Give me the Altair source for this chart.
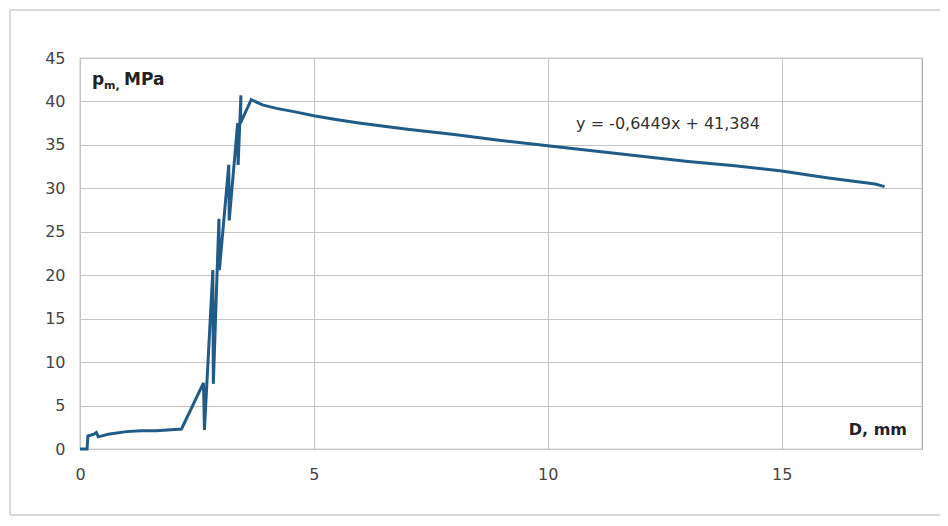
import altair as alt
import pandas as pd

# Data
D_mm = [0.0, 0.15, 0.17, 0.30, 0.35, 0.39, 0.60, 0.99, 1.30, 1.63, 2.17, 2.64, 2.66,
        2.84, 2.85, 2.97, 2.98, 3.18, 3.19, 3.37, 3.38, 3.44, 3.43, 3.66, 3.90,
        4.2, 4.6, 5.0, 5.5, 6.0, 7.0, 8.0, 9.0, 10.0, 11.0, 12.0, 13.0, 14.0, 15.0,
        16.0, 17.0, 17.2]
p_MPa = [0.0, 0.0, 1.5, 1.7, 1.9, 1.4, 1.7, 2.0, 2.1, 2.1, 2.3, 7.6, 2.2,
         20.6, 7.5, 26.5, 20.6, 32.7, 26.3, 37.5, 32.7, 40.7, 37.5, 40.2, 39.6,
         39.2, 38.8, 38.35, 37.9, 37.5, 36.8, 36.2, 35.5, 34.9, 34.3, 33.7, 33.1, 32.6, 32.0,
         31.2, 30.5, 30.2]

x_ticks = [0, 5, 10, 15]
y_ticks = [0, 5, 10, 15, 20, 25, 30, 35, 40, 45]
equation = "y = -0,6449x + 41,384"

df = pd.DataFrame({"D": D_mm, "p": p_MPa, "order": list(range(len(D_mm)))})

W, H = 842, 391
FONT = "DejaVu Sans"

x_scale = alt.Scale(domain=[0, 18], nice=False, zero=False)
y_scale = alt.Scale(domain=[0, 45], nice=False)

one = pd.DataFrame({"a": [0]})
FR = "#d9d9d9"
frame_top = alt.Chart(one).mark_rule(color=FR, strokeWidth=2, clip=False).encode(
    x=alt.value(-70), x2=alt.value(900), y=alt.value(-48))
frame_left = alt.Chart(one).mark_rule(color=FR, strokeWidth=2, clip=False).encode(
    x=alt.value(-70), y=alt.value(-48), y2=alt.value(457))
frame_bottom = alt.Chart(one).mark_rule(color=FR, strokeWidth=2, clip=False).encode(
    x=alt.value(-70), x2=alt.value(900), y=alt.value(457))

line = alt.Chart(df).mark_line(color="#215b87", strokeWidth=3, strokeJoin="miter").encode(
    x=alt.X("D:Q", scale=x_scale,
            axis=alt.Axis(values=x_ticks, title=None, grid=True, gridColor="#c4c4c4",
                          gridWidth=1, ticks=False, domain=False, labelFont=FONT,
                          labelFlush=False,
                          labelFontSize=16, labelColor="#444444", labelPadding=17)),
    y=alt.Y("p:Q", scale=y_scale,
            axis=alt.Axis(values=y_ticks, title=None, grid=True, gridColor="#c4c4c4",
                          gridWidth=1, ticks=False, domain=False, labelFont=FONT,
                          labelFlush=False,
                          labelFontSize=16, labelColor="#444444", labelPadding=15)),
    order="order:Q",
)

eq = alt.Chart(pd.DataFrame({"t": [equation], "x": [12.57], "y": [37.4]})).mark_text(
    font=FONT, fontSize=16, color="#333333", align="center", baseline="middle"
).encode(x=alt.X("x:Q", scale=x_scale), y=alt.Y("y:Q", scale=y_scale), text="t:N")

yt_p = alt.Chart(pd.DataFrame({"t": ["p"]})).mark_text(
    font=FONT, fontSize=17, fontWeight="bold", color="#222222", align="left", baseline="alphabetic"
).encode(x=alt.value(12), y=alt.value(27), text="t:N")
yt_m = alt.Chart(pd.DataFrame({"t": ["m,"]})).mark_text(
    font=FONT, fontSize=11, fontWeight="bold", color="#222222", align="left", baseline="alphabetic"
).encode(x=alt.value(24), y=alt.value(31), text="t:N")
yt_u = alt.Chart(pd.DataFrame({"t": ["MPa"]})).mark_text(
    font=FONT, fontSize=17, fontWeight="bold", color="#222222", align="left", baseline="alphabetic"
).encode(x=alt.value(44), y=alt.value(27), text="t:N")

xt = alt.Chart(pd.DataFrame({"t": ["D, mm"]})).mark_text(
    font=FONT, fontSize=16, fontWeight="bold", color="#222222", align="right", baseline="middle"
).encode(x=alt.value(827), y=alt.value(372), text="t:N")

chart = alt.layer(frame_top, frame_left, frame_bottom, line, eq, yt_p, yt_m, yt_u, xt).properties(
    width=W, height=H,
    autosize=alt.AutoSizeParams(type="none"),
    padding={"left": 72, "top": 50, "right": 18, "bottom": 67},
    background="white",
).configure_view(stroke="#a6a6a6", strokeWidth=1.2)

chart.save("out.html", embed_options={"renderer": "svg", "actions": False})
